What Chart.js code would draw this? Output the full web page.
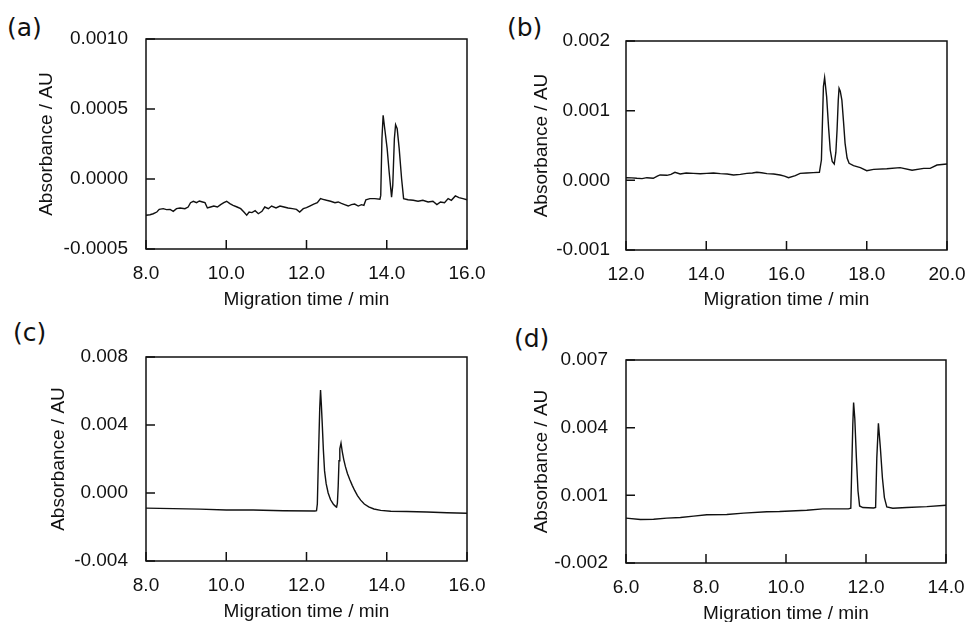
<!DOCTYPE html>
<html>
<head>
<meta charset="utf-8">
<script src="https://cdn.jsdelivr.net/npm/chart.js@4.4.0/dist/chart.umd.min.js"></script>
<style>
  body { margin: 0; background: #fff; width: 967px; height: 622px; position: relative; overflow: hidden; }
  canvas { position: absolute; }
  .tag { position: absolute; font-family: 'DejaVu Sans', sans-serif; font-size: 25px; line-height: 25px; color: #111; }
</style>
</head>
<body>
<div class="tag" style="left:7px;top:15px">(a)</div>
<div class="tag" style="left:507px;top:15px">(b)</div>
<div class="tag" style="left:13px;top:320px">(c)</div>
<div class="tag" style="left:514px;top:326px">(d)</div>
<canvas id="chartA" width="490" height="312" style="left:0;top:0"></canvas>
<canvas id="chartB" width="477" height="312" style="left:490px;top:0"></canvas>
<canvas id="chartC" width="490" height="310" style="left:0;top:312px"></canvas>
<canvas id="chartD" width="477" height="310" style="left:490px;top:312px"></canvas>
<script>
// (a)
const timeA = [8.00, 8.10, 8.18, 8.27, 8.33, 8.43, 8.51, 8.60, 8.68, 8.76, 8.85, 8.97, 9.05, 9.11, 9.18, 9.26, 9.33, 9.41, 9.47, 9.53, 9.61, 9.69, 9.78, 9.86, 9.94,
  10.01, 10.09, 10.17, 10.27, 10.36, 10.44, 10.51, 10.57, 10.64, 10.72, 10.80, 10.89, 10.96, 11.05, 11.13, 11.24, 11.34, 11.44, 11.54, 11.65, 11.75, 11.83, 11.92,
  12.00, 12.08, 12.18, 12.27, 12.35, 12.41, 12.50, 12.60, 12.71, 12.79, 12.87, 12.95, 13.04, 13.12, 13.20, 13.29, 13.37, 13.43, 13.48, 13.58, 13.70, 13.83,
  13.85, 13.88, 13.91, 13.95, 14.01, 14.06, 14.12, 14.15, 14.19, 14.22, 14.26, 14.31, 14.37, 14.42, 14.53, 14.66, 14.78, 14.90,
  15.03, 15.15, 15.25, 15.34, 15.44, 15.53, 15.61, 15.71, 15.80, 15.90, 16.00];
const absA = [-0.000259, -0.000255, -0.000248, -0.000236, -0.000217, -0.000212, -0.000219, -0.000217, -0.000231, -0.000212, -0.000207, -0.000212, -0.000200,
  -0.000169, -0.000159, -0.000169, -0.000157, -0.000164, -0.000169, -0.000207, -0.000200, -0.000193, -0.000200, -0.000183, -0.000169,
  -0.000159, -0.000176, -0.000188, -0.000200, -0.000212, -0.000236, -0.000259, -0.000236, -0.000240, -0.000226, -0.000248, -0.000231, -0.000200,
  -0.000212, -0.000193, -0.000207, -0.000193, -0.000200, -0.000207, -0.000212, -0.000217, -0.000236, -0.000212,
  -0.000205, -0.000193, -0.000179, -0.000169, -0.000140, -0.000145, -0.000152, -0.000159, -0.000169, -0.000164, -0.000174, -0.000183,
  -0.000193, -0.000183, -0.000179, -0.000193, -0.000183, -0.000188, -0.000148, -0.000140, -0.000140, -0.000145,
  -0.000117, 0.000288, 0.000455, 0.000359, 0.000217, 0.000050, -0.000129, -0.000045, 0.000288, 0.000388, 0.000359, 0.000217, 0.000002, -0.000140,
  -0.000148, -0.000152, -0.000159, -0.000152, -0.000164, -0.000159, -0.000183, -0.000164, -0.000169, -0.000140, -0.000152, -0.000121, -0.000133, -0.000140, -0.000148];
const xTicksA = [8, 10, 12, 14, 16];
const yTicksA = [-0.0005, 0, 0.0005, 0.001];

// (b)
const timeB = [12.00, 12.15, 12.27, 12.40, 12.52, 12.68, 12.78, 12.85, 13.02, 13.12, 13.22, 13.35, 13.50, 13.68, 13.85, 14.01, 14.18, 14.35, 14.52, 14.68,
  14.85, 15.01, 15.15, 15.26, 15.38, 15.51, 15.68, 15.84, 15.95, 16.05, 16.22, 16.34, 16.50, 16.67, 16.82, 16.87, 16.92, 16.95, 17.00, 17.05,
  17.09, 17.14, 17.19, 17.23, 17.26, 17.29, 17.31, 17.34, 17.38, 17.42, 17.46, 17.51, 17.56, 17.67, 17.84, 18.00, 18.17, 18.50, 18.83,
  19.13, 19.42, 19.58, 19.75, 20.00];
const absB = [0.000038, 0.000035, 0.000029, 0.000025, 0.000038, 0.000029, 0.000060, 0.000077, 0.000072, 0.000085, 0.000115, 0.000091, 0.000105, 0.000100,
  0.000095, 0.000100, 0.000105, 0.000096, 0.000090, 0.000077, 0.000085, 0.000100, 0.000105, 0.000115, 0.000108, 0.000096, 0.000090, 0.000077,
  0.000060, 0.000038, 0.000067, 0.000100, 0.000105, 0.000110, 0.000115, 0.000292, 0.001345, 0.001474, 0.001201, 0.000750,
  0.000435, 0.000270, 0.000234, 0.000400, 0.000723, 0.001150, 0.001321, 0.001280, 0.001153, 0.000850, 0.000531, 0.000320, 0.000244,
  0.000211, 0.000182, 0.000139, 0.000158, 0.000167, 0.000182, 0.000144, 0.000172, 0.000172, 0.000220, 0.000234];
const xTicksB = [12, 14, 16, 18, 20];
const yTicksB = [-0.001, 0, 0.001, 0.002];

// (c)
const timeC = [8.00, 8.68, 9.34, 10.00, 10.67, 11.42, 12.21, 12.25, 12.27, 12.30, 12.33, 12.35, 12.37, 12.39, 12.42, 12.45, 12.49, 12.54, 12.60, 12.67,
  12.73, 12.75, 12.77, 12.79, 12.81, 12.83, 12.86, 12.89, 12.93, 12.97, 13.02, 13.08, 13.14, 13.20, 13.27, 13.35, 13.44, 13.55, 13.68, 13.85,
  14.10, 14.50, 15.00, 15.50, 16.00];
const absC = [-0.00089, -0.00092, -0.00095, -0.00100, -0.00100, -0.00104, -0.00106, -0.00104, -0.00065, 0.00231, 0.00500, 0.00605, 0.00520, 0.00420,
  0.00255, 0.00130, 0.00055, 0.00000, -0.00040, -0.00066, -0.00080, -0.00083, -0.00060, 0.00040, 0.00190, 0.00260, 0.00293, 0.00245, 0.00195,
  0.00155, 0.00115, 0.00078, 0.00045, 0.00015, -0.00015, -0.00042, -0.00065, -0.00082, -0.00094, -0.00102, -0.00107, -0.00109, -0.00112,
  -0.00116, -0.00119];
const xTicksC = [8, 10, 12, 14, 16];
const yTicksC = [-0.004, 0, 0.004, 0.008];

// (d)
const timeD = [6.00, 6.36, 6.69, 7.02, 7.36, 7.69, 8.02, 8.52, 8.94, 9.52, 9.84, 10.52, 10.92, 11.56, 11.62, 11.64, 11.67, 11.69, 11.72, 11.76, 11.80,
  11.84, 11.92, 12.19, 12.24, 12.27, 12.31, 12.36, 12.41, 12.46, 12.52, 12.67, 13.02, 13.52, 14.00];
const absD = [-0.00001, -0.00007, -0.00006, -0.00001, 0.00002, 0.00008, 0.00014, 0.00015, 0.00021, 0.00027, 0.00028, 0.00034, 0.00040, 0.00040, 0.00043,
  0.00192, 0.00412, 0.00511, 0.00441, 0.00265, 0.00119, 0.00053, 0.00046, 0.00044, 0.00046, 0.00265, 0.00419, 0.00309, 0.00178, 0.00090, 0.00049,
  0.00043, 0.00046, 0.00050, 0.00056];
const xTicksD = [6, 8, 10, 12, 14];
const yTicksD = [-0.002, 0.001, 0.004, 0.007];

const xTitle = 'Migration time / min';
const yTitle = 'Absorbance / AU';

Chart.defaults.font.family = "'Liberation Sans', Arial, sans-serif";
Chart.defaults.font.size = 19;
Chart.defaults.color = '#111';

// box round the plot area, ticks pointing inwards
const frame = {
  id: 'frame',
  afterDraw(chart) {
    const { ctx, chartArea: a, scales: { x, y } } = chart;
    ctx.save();
    ctx.strokeStyle = '#111';
    ctx.lineWidth = 1.5;
    ctx.strokeRect(a.left, a.top, a.right - a.left, a.bottom - a.top);
    ctx.beginPath();
    y.ticks.forEach(t => {
      const py = y.getPixelForValue(t.value);
      ctx.moveTo(a.left, py);
      ctx.lineTo(a.left + 9, py);
    });
    x.ticks.forEach(t => {
      const px = x.getPixelForValue(t.value);
      ctx.moveTo(px, a.bottom);
      ctx.lineTo(px, a.bottom - 9);
    });
    ctx.stroke();
    ctx.restore();
  }
};

function makePanel(id, box, area, p) {
  const half = 19 * 1.2 / 2;
  const xH = box.y + box.h - area.bottom;
  return new Chart(document.getElementById(id), {
    type: 'line',
    data: {
      datasets: [{
        data: p.time.map((t, i) => ({ x: t, y: p.abs[i] })),
        borderColor: '#111',
        borderWidth: 1.4,
        pointRadius: 0,
        tension: 0,
        fill: false
      }]
    },
    options: {
      responsive: false,
      animation: false,
      layout: { padding: { left: 0, top: area.top - box.y, right: box.x + box.w - area.right, bottom: 0 } },
      plugins: { legend: { display: false }, tooltip: { enabled: false } },
      scales: {
        x: {
          type: 'linear',
          min: p.xTicks[0],
          max: p.xTicks[p.xTicks.length - 1],
          afterBuildTicks: s => { s.ticks = p.xTicks.map(v => ({ value: v })); },
          afterFit: s => { s.height = xH; s.paddingLeft = 0; s.paddingRight = 0; },
          grid: { display: false, drawTicks: false },
          border: { display: false },
          ticks: { padding: 13, maxRotation: 0, autoSkip: false, callback: v => v.toFixed(1) },
          title: { display: true, text: xTitle, padding: { top: 0, bottom: xH - half - p.xTitleOff } }
        },
        y: {
          min: p.yTicks[0],
          max: p.yTicks[p.yTicks.length - 1],
          afterBuildTicks: s => { s.ticks = p.yTicks.map(v => ({ value: v })); },
          afterFit: s => { s.width = area.left - box.x; s.paddingTop = 0; s.paddingBottom = 0; },
          grid: { display: false, drawTicks: false },
          border: { display: false },
          ticks: { padding: p.yGap, autoSkip: false, callback: v => (Math.abs(v) < 1e-12 ? 0 : v).toFixed(p.dec) },
          title: { display: true, text: yTitle, padding: { top: p.yTitleX - box.x - half, bottom: 0 } }
        }
      }
    },
    plugins: [frame]
  });
}

makePanel('chartA', { x: 0, y: 0, w: 490, h: 312 }, { left: 146, top: 39, right: 467, bottom: 249 },
  { time: timeA, abs: absA, xTicks: xTicksA, yTicks: yTicksA, dec: 4, yGap: 18, yTitleX: 47, xTitleOff: 51 });
makePanel('chartB', { x: 490, y: 0, w: 477, h: 312 }, { left: 626, top: 41, right: 947, bottom: 250 },
  { time: timeB, abs: absB, xTicks: xTicksB, yTicks: yTicksB, dec: 3, yGap: 16, yTitleX: 542, xTitleOff: 50 });
makePanel('chartC', { x: 0, y: 312, w: 490, h: 310 }, { left: 146, top: 357, right: 467, bottom: 561 },
  { time: timeC, abs: absC, xTicks: xTicksC, yTicks: yTicksC, dec: 3, yGap: 18, yTitleX: 59, xTitleOff: 50.5 });
makePanel('chartD', { x: 490, y: 312, w: 477, h: 310 }, { left: 626, top: 360, right: 946, bottom: 563 },
  { time: timeD, abs: absD, xTicks: xTicksD, yTicks: yTicksD, dec: 3, yGap: 18, yTitleX: 542, xTitleOff: 50.5 });
</script>
</body>
</html>
